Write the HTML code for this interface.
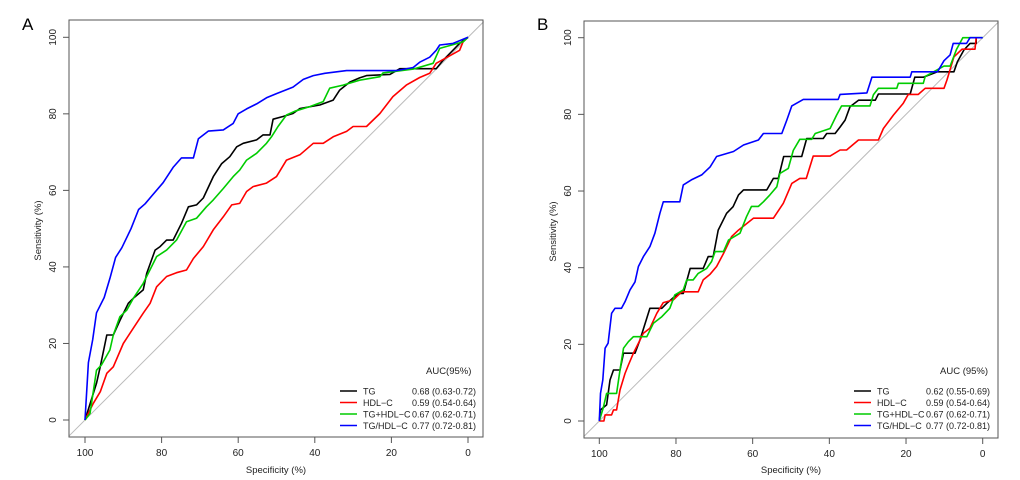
<!DOCTYPE html>
<html><head><meta charset="utf-8"><style>
html,body{margin:0;padding:0;background:#fff}
svg{display:block;font-family:"Liberation Sans",Arial,sans-serif}
</style></head><body>
<svg id="chart" width="1020" height="480" viewBox="0 0 1020 480"></svg>
<script>
// Panel A data (specificity %, sensitivity %)
const aTGSpec=[100,97,96,94.3,92.6,90.9,88.7,87.4,84.8,83.9,81.7,80.4,78.7,77,74.8,73,70.9,69.1,66.5,64.3,62.2,60.4,58.7,55.2,53.5,51.7,50.9,48.3,45.7,43.9,38.7,35.2,33.5,30.9,28.3,26.5,20.4,17.8,8.3,6.5,2.2,0];
const aTGSens=[0,9.6,14,22.2,22.2,26,30.5,31.8,34,38.3,44.4,45.3,47,47,51.4,55.7,56.2,58,63.6,67,68.8,71.4,72.3,73.2,74.5,74.5,78.6,79.3,80.1,81.4,82.3,83.6,86.2,88.3,89.4,90,90.3,91.8,91.8,94,98.4,100];
const aHDLSpec=[100,97.8,96,94.3,92.6,90,87.4,84.8,83,81.3,78.7,76.1,73.5,71.7,69.1,66.5,63.9,61.7,59.6,57.8,56.1,52.6,50,47.4,43.9,40.4,37.8,35.2,31.7,30,26.5,23,19.6,16.1,12.6,10,8.3,2.2,1.3,0];
const aHDLSens=[0,4.4,7.4,12.2,13.9,20,24,27.9,30.5,34.8,37.5,38.5,39.2,42.2,45.3,49.7,53.1,56.2,56.6,59.7,61,61.9,63.6,67.9,69.3,72.3,72.3,74,75.4,76.7,76.7,80.1,84.5,87.5,89.5,90.6,93.2,96.6,98.8,100];
const aSumSpec=[100,98.7,97,95.7,93.5,92.6,90.9,89.1,87.4,84.8,81.3,78.7,76.1,73.5,70.9,68.3,66.5,63.9,61.3,59.6,57.8,55.2,52.6,51.3,49.6,47.4,45.2,41.3,37.8,36.1,32.6,28.3,23,22.2,14.3,9.1,7.4,1.3,0];
const aSumSens=[0,1.7,13,14.4,18.3,22.2,27,28.7,31.8,35.7,42.7,44.4,47,51.8,52.7,55.7,57.5,60.5,63.6,65.3,67.9,69.7,72.3,74,76.7,79.7,80.7,81.9,83.2,86.7,87.5,88.8,89.7,90.7,91.7,93.2,97.1,98.8,100];
const aRatioSpec=[100,99.1,98,97,95,93.5,92,90.4,88,86,84.3,82.6,79.6,77,74.8,71.7,70.4,67.8,63.9,61.3,60,57.8,55.2,52.6,50,45.7,43,40.4,37.4,31.7,18.7,14.3,12.6,10,8.3,7.4,3.9,0];
const aRatioSens=[0,15,21,28,32,37,42.5,45,50,55,56.5,58.5,62,66,68.5,68.5,73.5,75.5,75.8,77.5,80,81.3,82.6,84.2,85.3,87,89,90,90.6,91.3,91.3,92.1,93.5,94.8,96.6,98,98.4,100];
// Panel B data
const bTGSpec=[100,99.7,98.1,97.2,96.3,94.6,93.7,90.7,89.4,86.8,83.7,82.4,79.4,78.1,76.3,72.9,71.6,70.3,69,66.8,65.1,63.7,62.4,56.3,54.6,53.3,51.9,47.2,45.9,41.6,40.7,38.5,37.2,35.9,34.6,32.4,28,27.2,18.9,17.7,15.5,11.8,7.5,6.6,4.9,3.3,1.7,1.7];
const bTGSens=[0,2.9,4.2,10.7,13.3,13.3,17.7,17.7,21.1,29.4,29.4,30.7,33.3,33.3,39.8,39.8,42.9,42.9,49.8,54.2,55.9,59,60.3,60.3,63.3,63.3,69,69,73.7,73.7,75,75,76.7,78.5,82,83.7,83.7,85.3,85.3,89.7,89.7,91.1,91.1,93.7,96.8,98.5,98.5,100];
const bHDLSpec=[100,98.8,98.5,96.8,96.3,95.5,94.6,93.3,92.4,91.1,89.8,88.5,86.8,85,83.3,80.7,78.5,74.2,72.9,71.1,69.4,67.6,65.5,63.7,59.8,54.6,52,49.8,47.7,46,44.2,39.8,37.2,35.5,32.4,27.2,25.9,23.3,20.7,19.4,16.8,15,10.1,9.3,7.5,5.4,2,1.7];
const bHDLSens=[0,0,1.6,1.6,2.9,2.9,8.1,12.4,14.6,17.7,20.3,22.9,24.2,28.1,30.9,31.6,33.7,33.7,36.8,38.3,40.3,43.7,48.1,49.8,52.9,52.9,56.8,62,63.3,63.3,69.1,69.1,70.7,70.7,73.3,73.3,76.3,79.8,82.9,85.2,85.2,86.8,86.8,89,95,97,97,100];
const bSumSpec=[100,99,98.1,95.5,94.6,93.7,92.4,91.1,87.6,85.9,83.7,81.6,80.3,78.1,77.2,75.5,74.2,72,70.7,69.8,67.6,66.3,63.3,61.6,60.3,58.5,57.2,55.5,53.7,52.9,50.7,49.4,47.7,44.6,43.7,39.8,38.1,36.8,29.4,28.5,27.2,22.4,22,15.5,15,10.1,8.5,6.8,5.2,0];
const bSumSens=[0,3.3,7.2,7.2,13.3,19,20.7,22,22,25.5,27.2,29.4,32.9,34.2,36.8,36.8,38.5,39.8,41.6,44.2,44.2,47.2,49,53.3,56,56,57.2,59,61.1,64.6,65.9,70.6,73.5,73.5,75,76.3,79.8,82.2,82.2,85.1,86.8,86.8,88.1,88.1,89.9,92.6,92.6,97,100,100];
const bRatioSpec=[100,99.7,99.1,98.5,97.7,96.8,95.9,94.2,93.3,92,90.7,89.8,88.5,86.8,85.5,84.2,83.3,79,78.1,76,73.3,71.1,69.4,65,62.4,58.5,57.2,52.4,51.1,49.8,46.8,37.7,37.2,30.2,28.9,18.9,18.5,11.8,10.1,8.5,7.7,4.2,3.3,0];
const bRatioSens=[0,7.2,10.7,19,20.3,28.1,29.4,29.4,31.1,34.2,36.3,40.3,42.9,45.5,49,54.2,57.2,57.2,61.6,62.9,64.2,66.3,69,70.3,72,73.3,75,75,78.5,82.2,83.9,83.9,85.2,85.6,89.7,89.7,91.1,91.1,94,95.5,98.5,98.5,100,100];
const ticks=[100,80,60,40,20,0];
const legendNames=["TG","HDL\u2212C","TG+HDL\u2212C","TG/HDL\u2212C"];
const aAUC=["0.68 (0.63-0.72)","0.59 (0.54-0.64)","0.67 (0.62-0.71)","0.77 (0.72-0.81)"];
const bAUC=["0.62 (0.55-0.69)","0.59 (0.54-0.64)","0.67 (0.62-0.71)","0.77 (0.72-0.81)"];
const colors=["#000000","#ff0000","#00cc00","#0000ff"];
const NS="http://www.w3.org/2000/svg";
const svg=document.getElementById('chart');
function mk(tag,attrs,parent,text){const e=document.createElementNS(NS,tag);for(const k in attrs)e.setAttribute(k,attrs[k]);if(text!==undefined)e.textContent=text;(parent||svg).appendChild(e);return e;}
function panel(p){
  const g=mk('g',{});
  
  
  const sx=v=>p.x0+(100-v)*(p.x1-p.x0)/100;
  const sy=v=>p.y0-v*(p.y0-p.y1)/100;
  const lab=mk('text',{x:p.bx0-47,y:30,'font-size':17},g,p.id);
  
  
  const diag=mk('line',{x1:sx(104.1),y1:sy(-4.1),x2:sx(-4.1),y2:sy(104.1),stroke:'#bbbbbb','stroke-width':1},g);
  
  
  p.series.forEach((s,i)=>{
    const pts=s[0].map((v,j)=>sx(v).toFixed(1)+','+sy(s[1][j]).toFixed(1)).join(' ');
    const pl=mk('polyline',{points:pts,fill:'none',stroke:colors[i],'stroke-width':1.6,'stroke-linejoin':'round'},g);
    
    
  });
  const box=mk('rect',{x:p.bx0,y:p.by0,width:p.bx1-p.bx0,height:p.by1-p.by0,fill:'none',stroke:'#555','stroke-width':1},g);
  
  
  ticks.forEach(t=>{
    mk('line',{x1:sx(t),y1:p.by1,x2:sx(t),y2:p.by1+6,stroke:'#555'},g);
    const tx=mk('text',{x:sx(t),y:p.by1+19,'font-size':10,'text-anchor':'middle',fill:'#222'},g,String(t));
    
    
    mk('line',{x1:p.bx0,y1:sy(t),x2:p.bx0-6,y2:sy(t),stroke:'#555'},g);
    const ty=mk('text',{x:0,y:0,'font-size':10,'text-anchor':'middle',fill:'#222',transform:`translate(${p.bx0-13},${sy(t)}) rotate(-90)`},g,String(t));
    
    
  });
  const xt=mk('text',{x:(p.bx0+p.bx1)/2,y:473,'font-size':9.5,'text-anchor':'middle',fill:'#222'},g,'Specificity (%)');
  
  
  const yt=mk('text',{x:0,y:0,'font-size':9.5,'text-anchor':'middle',fill:'#222',transform:`translate(${p.bx0-28},${(p.by0+p.by1)/2+2}) rotate(-90)`},g,'Sensitivity (%)');
  
  
  const lg=mk('g',{},g);
  
  
  mk('text',{x:p.lx+86,y:p.ly-17,'font-size':9.5,fill:'#222'},lg,p.aucTitle);
  legendNames.forEach((n,i)=>{
    const y=p.ly+i*11.5;
    const it=mk('g',{},lg);
    
    
    mk('line',{x1:p.lx,y1:y,x2:p.lx+17,y2:y,stroke:colors[i],'stroke-width':1.6},it);
    mk('text',{x:p.lx+23,y:y+3.5,'font-size':9,fill:'#222'},it,n);
    mk('text',{x:p.lx+72,y:y+3.5,'font-size':9,fill:'#222'},it,p.auc[i]);
  });
}
panel({id:'A',x0:85,x1:468,y0:420,y1:37.3,bx0:69,bx1:483,by0:20,by1:437,lx:340,ly:391,aucTitle:'AUC(95%)',auc:aAUC,
  series:[[aTGSpec,aTGSens],[aHDLSpec,aHDLSens],[aSumSpec,aSumSens],[aRatioSpec,aRatioSens]]});
panel({id:'B',x0:599.3,x1:982.7,y0:421,y1:37.7,bx0:584,bx1:998,by0:21,by1:438,lx:854,ly:391,aucTitle:'AUC (95%)',auc:bAUC,
  series:[[bTGSpec,bTGSens],[bHDLSpec,bHDLSens],[bSumSpec,bSumSens],[bRatioSpec,bRatioSens]]});
</script>
</body></html>
